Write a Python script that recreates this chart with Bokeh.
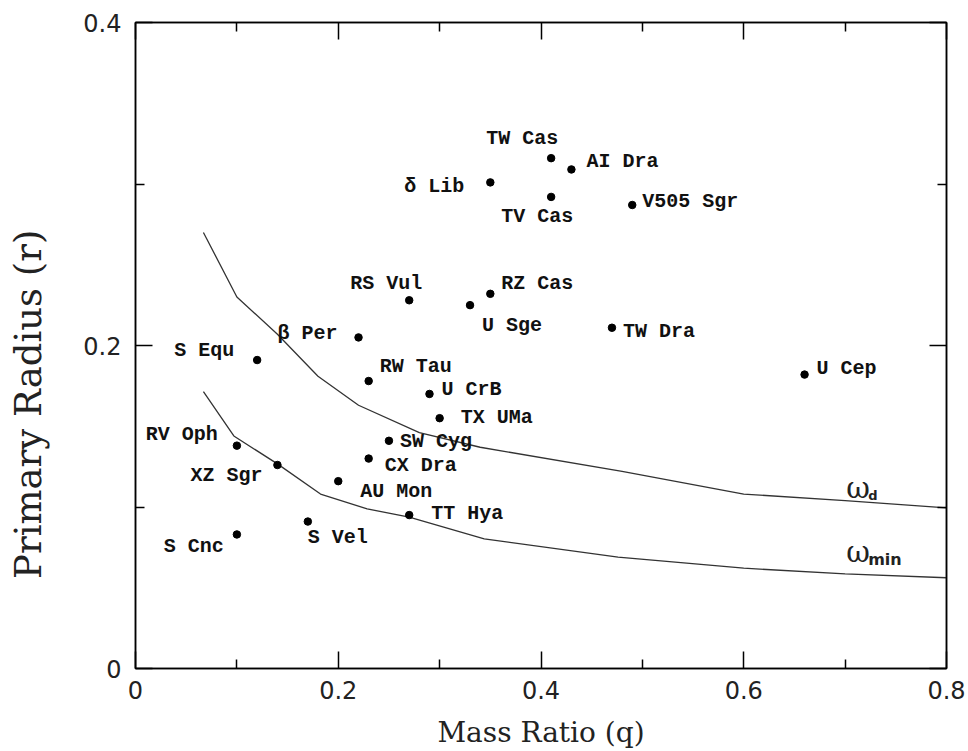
import math
from bokeh.plotting import figure
from bokeh.models import Range1d, FixedTicker, LinearAxis, ColumnDataSource, Label, NumeralTickFormatter
from bokeh.core.properties import value
from bokeh.embed import file_html
from bokeh.resources import INLINE

# ---------------- data ----------------
star_names = ["TW Cas", "AI Dra", "δ Lib", "TV Cas", "V505 Sgr", "RS Vul", "RZ Cas", "U Sge",
              "TW Dra", "β Per", "S Equ", "RW Tau", "U CrB", "TX UMa", "SW Cyg", "CX Dra",
              "RV Oph", "XZ Sgr", "AU Mon", "TT Hya", "S Vel", "S Cnc", "U Cep"]
mass_ratio = [0.41, 0.43, 0.35, 0.41, 0.49, 0.27, 0.35, 0.33,
              0.47, 0.22, 0.12, 0.23, 0.29, 0.30, 0.25, 0.23,
              0.10, 0.14, 0.20, 0.27, 0.17, 0.10, 0.66]
primary_radius = [0.316, 0.309, 0.301, 0.292, 0.287, 0.228, 0.232, 0.225,
                  0.211, 0.205, 0.191, 0.178, 0.170, 0.155, 0.141, 0.130,
                  0.138, 0.126, 0.116, 0.095, 0.091, 0.083, 0.182]

omega_d_q = [0.067, 0.10, 0.14, 0.18, 0.22, 0.28, 0.34, 0.48, 0.60, 0.70, 0.80]
omega_d_r = [0.270, 0.230, 0.207, 0.181, 0.163, 0.146, 0.137, 0.122, 0.108, 0.104, 0.0995]
omega_min_q = [0.067, 0.097, 0.14, 0.1825, 0.2285, 0.27, 0.344, 0.476, 0.60, 0.70, 0.80]
omega_min_r = [0.1715, 0.144, 0.1267, 0.108, 0.0989, 0.0937, 0.0803, 0.0689, 0.0621, 0.0586, 0.0562]

x_major_ticks = [0, 0.2, 0.4, 0.6, 0.8]
x_minor_ticks = [0.1, 0.3, 0.5, 0.7]
y_major_ticks = [0, 0.2, 0.4]
y_minor_ticks = [0.1, 0.3]

x_title = "Mass Ratio (q)"
y_title = "Primary Radius (r)"
curve_labels = [("ω", "d"), ("ω", "min")]

# ---------------- label placement (screen pixel offsets) ----------------
label_align = ["left", "left", "right", "left", "left", "left", "left", "left",
               "left", "right", "right", "left", "left", "left", "left", "left",
               "right", "right", "left", "left", "left", "right", "left"]
label_dx = [-65, 15, -26, -50, 10, -59, 11, 12,
            11, -21, -23, 11, 12, 21, 11, 16,
            -19, -15, 22, 22, 0, -13, 12]
label_dy = [-20, -7.5, 4, 20, -3, -16.5, -10.5, 20,
            4, -4, -10, -15, -4, -1, 1, 7,
            -11, 10, 10, -2, 16, 12, -6]

W, H = 968, 751
p = figure(width=W, height=H, output_backend="svg", toolbar_location=None,
           x_range=Range1d(0, 0.8), y_range=Range1d(0, 0.4),
           min_border_left=135, min_border_right=22, min_border_top=22, min_border_bottom=83,
           x_axis_location=None, y_axis_location=None)
p.background_fill_color = "white"
p.border_fill_color = "white"
p.grid.visible = False
p.outline_line_color = "black"
p.outline_line_width = 1.5


def style_axis(ax, major, minor, labels=True):
    ax.ticker = FixedTicker(ticks=major, minor_ticks=minor)
    ax.formatter = NumeralTickFormatter(format="0.[0]")
    ax.axis_line_color = "black"
    ax.axis_line_width = 1.5
    ax.major_tick_in = 17
    ax.major_tick_out = 0
    ax.minor_tick_in = 9
    ax.minor_tick_out = 0
    ax.major_tick_line_width = 1.5
    ax.minor_tick_line_width = 1.5
    ax.major_tick_line_color = "black"
    ax.minor_tick_line_color = "black"
    ax.major_label_text_font = "DejaVu Sans"
    ax.major_label_text_font_size = "24px"
    ax.major_label_text_color = "#222222" if labels else None
    ax.axis_label_text_font = "DejaVu Serif"
    ax.axis_label_text_font_style = "normal"
    ax.axis_label_text_color = "#222222"


bottom = LinearAxis(axis_label=x_title)
style_axis(bottom, x_major_ticks, x_minor_ticks)
bottom.major_label_standoff = 12
bottom.axis_label_standoff = 14
bottom.axis_label_text_font_size = "28px"
bottom.axis_label_text_line_height = 0.75
p.add_layout(bottom, "below")
top = LinearAxis()
style_axis(top, x_major_ticks, x_minor_ticks, labels=False)
p.add_layout(top, "above")
# trailing no-break spaces shift the centred title toward the bottom, as in the original
left = LinearAxis(axis_label=y_title + "\u00a0" * 10)
style_axis(left, y_major_ticks, y_minor_ticks)
left.major_label_standoff = 14
left.axis_label_standoff = 30
left.axis_label_text_font_size = "37px"
p.add_layout(left, "left")
right = LinearAxis()
style_axis(right, y_major_ticks, y_minor_ticks, labels=False)
p.add_layout(right, "right")

# curves
p.line(omega_d_q, omega_d_r, line_color="#333333", line_width=1.3)
p.line(omega_min_q, omega_min_r, line_color="#333333", line_width=1.3)

# points
p.scatter(mass_ratio, primary_radius, size=7.5, color="black")

# star labels
for align in ("left", "right"):
    idx = [i for i, a in enumerate(label_align) if a == align]
    src = ColumnDataSource(dict(
        x=[mass_ratio[i] for i in idx], y=[primary_radius[i] for i in idx],
        t=[star_names[i] for i in idx], dx=[label_dx[i] for i in idx],
        dy=[label_dy[i] for i in idx]))
    p.text("x", "y", text="t", x_offset="dx", y_offset="dy", source=src,
           text_font=value("Liberation Mono"), text_font_style="bold",
           text_font_size="20px", text_align=align, text_baseline="middle",
           text_color="#111111")

# curve labels (omega with subscripts)
px_x = 0.8 / 811.0
px_y = 0.4 / 646.0
for (sym, sub), (xx, yy) in zip(curve_labels, [(0.701, 0.1115), (0.701, 0.072)]):
    p.add_layout(Label(x=xx, y=yy, text=sym, text_font="DejaVu Serif",
                       text_font_size="29px", text_color="#222222",
                       text_align="left", text_baseline="alphabetic"))
    p.add_layout(Label(x=xx + 22 * px_x, y=yy - 7 * px_y, text=sub,
                       text_font="DejaVu Sans", text_font_style="bold",
                       text_font_size="13px" if sub == "d" else "16px",
                       text_color="#222222", text_align="left",
                       text_baseline="alphabetic"))

open("out.html", "w").write(file_html(p, INLINE))
